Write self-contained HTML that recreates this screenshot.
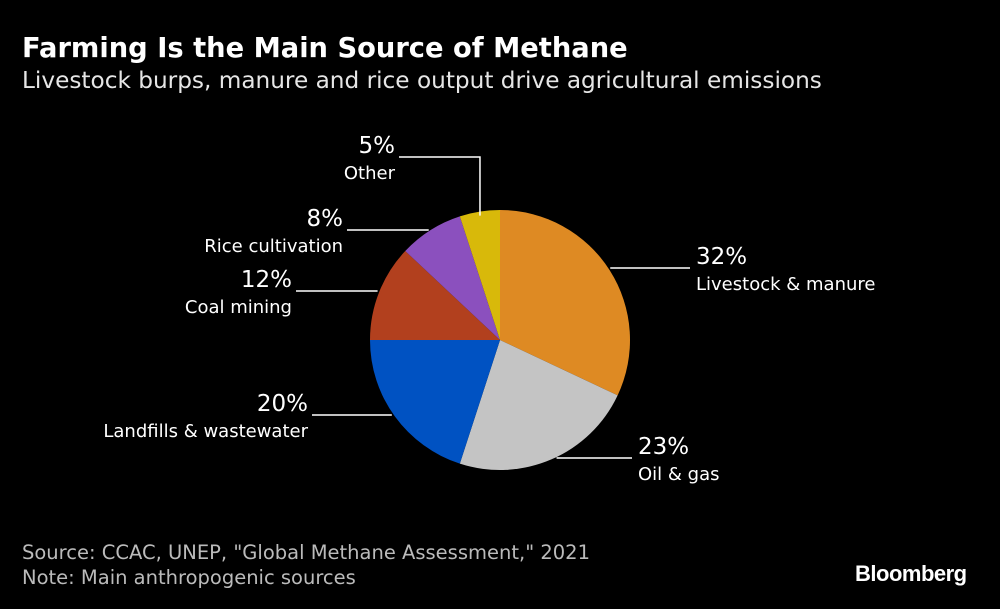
<!DOCTYPE html>
<html><head><meta charset="utf-8">
<style>
html,body{margin:0;padding:0;background:#000;}
body{width:1000px;height:609px;position:relative;overflow:hidden;font-family:"DejaVu Sans",sans-serif;color:#fff;}
.t{position:absolute;white-space:nowrap;}
</style></head>
<body>
<div class="t" style="left:22px;top:33px;font-size:27.3px;font-weight:bold;">Farming Is the Main Source of Methane</div>
<div class="t" style="left:22px;top:67px;font-size:23.2px;color:#e6e6e6;">Livestock burps, manure and rice output drive agricultural emissions</div>
<svg id="pie" width="1000" height="609" style="position:absolute;left:0;top:0;" font-family="DejaVu Sans, sans-serif"></svg>
<div class="t" style="left:22px;top:541px;font-size:19.5px;color:#bbb;">Source: CCAC, UNEP, "Global Methane Assessment," 2021</div>
<div class="t" style="left:22px;top:566px;font-size:19.5px;color:#bbb;">Note: Main anthropogenic sources</div>
<div class="t" style="left:855px;top:561px;font-size:22px;font-weight:bold;font-family:'Liberation Sans',sans-serif;letter-spacing:-0.5px;">Bloomberg</div>
<script>
const categories=["Livestock & manure","Oil & gas","Landfills & wastewater","Coal mining","Rice cultivation","Other"];
const values=[32,23,20,12,8,5];
const colors=["#de8a23","#c4c4c4","#0052c2","#b2401e","#8b50be","#d8b90a"];
const cx=500,cy=340,r=130;
const NS="http://www.w3.org/2000/svg";
const svg=document.getElementById('pie');
const total=values.reduce((a,b)=>a+b,0);
function pt(a,rr){return [cx+rr*Math.sin(a),cy-rr*Math.cos(a)];}
let acc=0;
const mids=[];
values.forEach((v,i)=>{
  const a0=acc/total*2*Math.PI; acc+=v; const a1=acc/total*2*Math.PI;
  const p0=pt(a0,r),p1=pt(a1,r);
  const large=(a1-a0)>Math.PI?1:0;
  const p=document.createElementNS(NS,'path');
  p.setAttribute('d',`M${cx},${cy}L${p0[0]},${p0[1]}A${r},${r} 0 ${large} 1 ${p1[0]},${p1[1]}Z`);
  p.setAttribute('fill',colors[i]);
  
  
  svg.appendChild(p);
  mids.push((a0+a1)/2);
});
const layout=[
 {side:1,x2:690,ly:268},
 {side:1,x2:632,ly:458},
 {side:-1,x2:312,ly:415},
 {side:-1,x2:296,ly:291},
 {side:-1,x2:347,ly:230},
 {side:-1,x2:399,ly:157,elbow:true}
];
values.forEach((v,i)=>{
  const L=layout[i];
  let d;
  if(L.elbow){const e=pt(mids[i],r-2);d=`M${e[0]},${e[1]+2}L${e[0]},${L.ly}L${L.x2},${L.ly}`;}
  else{
    const dy=L.ly-cy; const xs=cx+L.side*Math.sqrt(Math.max(0,r*r-dy*dy));
    d=`M${xs+L.side*2},${L.ly}L${L.x2},${L.ly}`;
  }
  const ln=document.createElementNS(NS,'path');
  ln.setAttribute('d',d);ln.setAttribute('stroke','#fff');ln.setAttribute('stroke-width','1.5');ln.setAttribute('fill','none');
  
  
  svg.appendChild(ln);
  const tx=L.side>0?L.x2+6:L.x2-4;
  const anchor=L.side>0?'start':'end';
  const t1=document.createElementNS(NS,'text');
  t1.setAttribute('x',tx);t1.setAttribute('y',L.ly-4);t1.setAttribute('text-anchor',anchor);
  t1.setAttribute('fill','#fff');t1.setAttribute('font-size','23');
  t1.textContent=v+'%';
  
  
  svg.appendChild(t1);
  const t2=document.createElementNS(NS,'text');
  t2.setAttribute('x',tx);t2.setAttribute('y',L.ly+22);t2.setAttribute('text-anchor',anchor);
  t2.setAttribute('fill','#fff');t2.setAttribute('font-size','18');
  t2.textContent=categories[i];
  
  
  svg.appendChild(t2);
});
</script>
</body></html>
